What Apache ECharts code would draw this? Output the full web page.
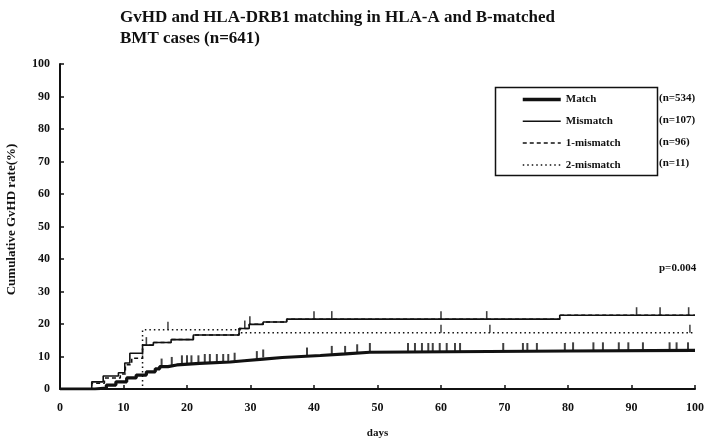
<!DOCTYPE html>
<html>
<head>
<meta charset="utf-8">
<script src="https://cdn.jsdelivr.net/npm/echarts@6/dist/echarts.min.js"></script>
<style>
  html, body { margin: 0; padding: 0; background: #fff; }
  #chart { width: 709px; height: 441px; }
</style>
</head>
<body>
<div id="chart"></div>
<script>
// curves: [day, cumulative GvHD %]
var matchCurve = [[0,0],[5.5,0.3],[7.3,1.2],[8.8,2.2],[10.5,3.4],[12,4.3],[13.6,5.3],[15,6.2],[15.7,6.9],[17,7.4],[18.4,7.9],[22,8.3],[26.8,8.7],[29,9.2],[32,9.7],[35,10.3],[41,10.8],[45,11.3],[48.8,11.7],[80,11.9],[100,11.9]];
var mismatchCurve = [[0,0],[5,2.2],[6.8,4],[9.2,5],[10.2,8],[11,11],[13,13.5],[14.7,14.3],[17.5,15.2],[21,16.6],[28.2,18.6],[29.8,19.9],[32,20.6],[35.7,21.5],[78.7,22.7],[100,22.7]];
var oneMismatchCurve = [[0,0],[5,1.8],[7,3.4],[9.5,4.6],[10.3,7.5],[11.3,9.5],[13,13.5],[14.7,14.3],[17.5,15.2],[21,16.6],[28.2,18.6],[29.8,19.9],[32,20.6],[35.7,21.5],[78.7,22.7],[100,22.7]];
var twoMismatchCurve = [[0,0],[13,18.2],[28.5,17.3],[100,17.3]];

// censored observations (days)
var matchCensor = [16,17.6,19.2,20,20.7,21.8,22.8,23.6,24.7,25.7,26.5,27.5,31,32,38.9,42.8,44.9,46.8,48.8,54.8,55.9,57,58,58.7,59.8,60.9,62.2,63,69.8,72.9,73.6,75.1,79.5,80.8,84,85.5,88,89.5,91.8,96,97.1,98.9];
var mismatchCensor = [13.6,29.1,29.9,40,42.8,60,67.2,90.8,94.5,99];
var twoMismatchCensor = [17,60,67.7,99.2];

var groupNames = ['Match','Mismatch','1-mismatch','2-mismatch'];
var groupN = ['(n=534)','(n=107)','(n=96)','(n=11)'];
var titleLines = ['GvHD and HLA-DRB1 matching in HLA-A and B-matched','BMT cases (n=641)'];
var pValue = 'p=0.004';

var FONT = '"Liberation Serif", "DejaVu Serif", serif';
var INK = '#111';

function valueAt(curve, t) {
    var v = 0;
    for (var i = 0; i < curve.length; i++) {
        if (curve[i][0] <= t) v = curve[i][1];
    }
    return v;
}

function censorPoints(curve, days) {
    return days.map(function (d) { return [d, valueAt(curve, d)]; });
}

function censorSeries(curve, days, w) {
    return {
        type: 'scatter',
        data: censorPoints(curve, days),
        symbol: 'rect',
        symbolSize: [w, 8],
        symbolOffset: [0, -4],
        itemStyle: { color: INK },
        silent: true,
        z: 5
    };
}

var legendWidths = [3.5, 1.5, 1.5, 1.5];

var myChart = echarts.init(document.getElementById('chart'));

var option = {
    animation: false,
    backgroundColor: '#fff',
    title: {
        text: titleLines.join('\n'),
        left: 115,
        top: 2,
        textStyle: { fontFamily: FONT, fontSize: 17, fontWeight: 'bold', color: INK, lineHeight: 21 }
    },
    grid: { left: 60, right: 14, top: 64, bottom: 52, outerBoundsMode: 'none', containLabel: false },
    legend: {
        orient: 'vertical',
        left: 516,
        top: 89,
        itemWidth: 38,
        itemHeight: 10,
        itemGap: 10.8,
        itemStyle: { opacity: 0 },
        textStyle: { fontFamily: FONT, fontSize: 11, fontWeight: 'bold', color: INK },
        data: groupNames.map(function (n, i) {
            return { name: n, lineStyle: { width: legendWidths[i] } };
        })
    },
    xAxis: {
        type: 'value',
        min: 0, max: 100, interval: 10,
        name: 'days',
        nameLocation: 'middle',
        nameGap: 39,
        nameTextStyle: { fontFamily: FONT, fontSize: 11, fontWeight: 'bold', color: INK },
        axisLine: { lineStyle: { color: INK, width: 2 } },
        axisTick: { inside: true, length: 4, lineStyle: { color: INK, width: 1.5 } },
        axisLabel: { margin: 13, fontFamily: FONT, fontSize: 12, fontWeight: 'bold', color: INK },
        splitLine: { show: false }
    },
    yAxis: {
        type: 'value',
        min: 0, max: 100, interval: 10,
        name: 'Cumulative GvHD rate(%)',
        nameLocation: 'middle',
        nameRotate: 90,
        nameGap: 42,
        nameTextStyle: { fontFamily: FONT, fontSize: 13, fontWeight: 'bold', color: INK, padding: [0, 0, 0, 14] },
        axisLine: { show: true, lineStyle: { color: INK, width: 2 } },
        axisTick: { show: true, inside: true, length: 4, lineStyle: { color: INK, width: 1.5 } },
        axisLabel: { margin: 10, fontFamily: FONT, fontSize: 12, fontWeight: 'bold', color: INK },
        splitLine: { show: false }
    },
    series: [
        {
            name: '1-mismatch', type: 'line', step: 'end', data: oneMismatchCurve,
            symbol: 'none', z: 2,
            lineStyle: { color: INK, width: 1.5, type: [4, 3] },
            itemStyle: { color: INK }
        },
        {
            name: '2-mismatch', type: 'line', step: 'end', data: twoMismatchCurve,
            symbol: 'none', z: 3,
            lineStyle: { color: INK, width: 1.5, type: [1.5, 3] },
            itemStyle: { color: INK }
        },
        {
            name: 'Mismatch', type: 'line', step: 'end', data: mismatchCurve,
            symbol: 'none', z: 4,
            lineStyle: { color: INK, width: 1.6 },
            itemStyle: { color: INK }
        },
        {
            name: 'Match', type: 'line', step: 'end', data: matchCurve,
            symbol: 'none', z: 4,
            lineStyle: { color: INK, width: 3.2 },
            itemStyle: { color: INK }
        },
        censorSeries(matchCurve, matchCensor, 2),
        censorSeries(mismatchCurve, mismatchCensor, 1.6),
        censorSeries(twoMismatchCurve, twoMismatchCensor, 1.5)
    ],
    graphic: [
        {
            type: 'rect',
            left: 493, top: 85,
            shape: { width: 162, height: 88 },
            style: { fill: 'none', stroke: INK, lineWidth: 1.5 },
            z: 0
        },
        {
            type: 'group',
            left: 659, top: 93,
            children: groupN.map(function (t, i) {
                return {
                    type: 'text',
                    top: i * 21.7,
                    style: { text: t, font: 'bold 11px ' + FONT, fill: INK }
                };
            })
        },
        {
            type: 'text',
            left: 659, top: 263,
            style: { text: pValue, font: 'bold 11px ' + FONT, fill: INK }
        }
    ]
};

myChart.setOption(option);
</script>
</body>
</html>
